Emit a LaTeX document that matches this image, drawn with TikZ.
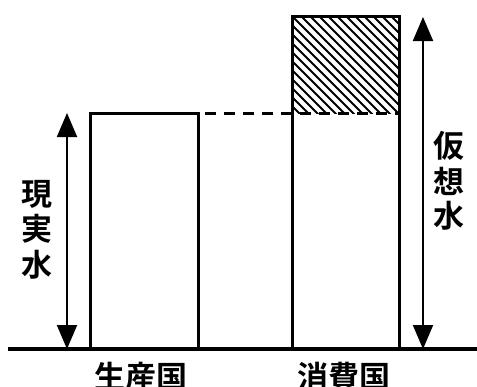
\documentclass[tikz,border=0pt]{standalone}
\usepackage{fontspec}
\newfontfamily\cjk{Noto Sans CJK JP Bold}
\usetikzlibrary{arrows.meta}
\begin{document}
\begin{tikzpicture}[x=1pt,y=-1pt,
  boxline/.style={line width=3pt},
  dimarrow/.style={line width=2pt,{Triangle[length=24pt,width=20pt]}-{Triangle[length=24pt,width=20pt]}},
  lbl/.style={font=\cjk\fontsize{31}{33}\selectfont,inner sep=0pt}]
\useasboundingbox (0,0) rectangle (477,386);
% hatching
\begin{scope}
\clip (292,16) rectangle (399,113);
\foreach \i in {-12,...,24}{
  \draw[line width=1.8pt] (292+\i*9,16) -- ++(110,110);
}
\end{scope}
% boxes
\draw[boxline] (90,349) -- (90,113) -- (198,113) -- (198,349);
\draw[boxline] (292,349) -- (292,16) -- (399,16) -- (399,349);
\draw[boxline,dash pattern=on 11pt off 8pt] (205,113) -- (399,113);
% baseline
\coordinate (bl) at (8,349);
\coordinate (br) at (477,349);
\draw[line width=4pt] (bl) -- (br);
% arrows
\coordinate (a1t) at (67,113);
\coordinate (a1b) at (67,349);
\coordinate (a2t) at (423,17);
\coordinate (a2b) at (423,349);
\draw[dimarrow] (a1b) -- (a1t);
\draw[dimarrow] (a2b) -- (a2t);
% labels
\node[lbl] (g1) at (37,194) {現};
\node[lbl] (g2) at (37,229) {実};
\node[lbl] (g3) at (37,265) {水};
\node[lbl] (k1) at (449,146) {仮};
\node[lbl] (k2) at (449,181) {想};
\node[lbl] (k3) at (449,216) {水};
\node[lbl] (p) at (141,377) {生産国};
\node[lbl] (c) at (344,377) {消費国};
\end{tikzpicture}
\end{document}
